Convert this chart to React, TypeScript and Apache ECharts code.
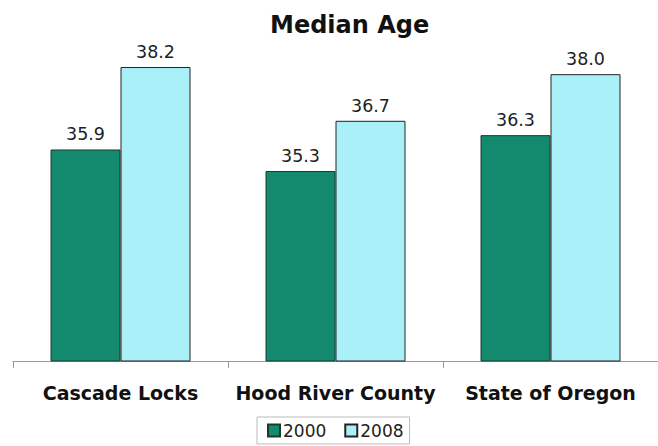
import React, { useEffect, useRef } from "react";
import * as echarts from "echarts";

const categories = ["Cascade Locks", "Hood River County", "State of Oregon"];
const values2000 = [35.9, 35.3, 36.3];
const values2008 = [38.2, 36.7, 38.0];
const seriesNames = ["2000", "2008"];

const FONT = "DejaVu Sans";

export default function App() {
  const ref = useRef<HTMLDivElement>(null);
  useEffect(() => {
    if (!ref.current) return;
    const chart = echarts.init(ref.current, undefined, { renderer: "svg" });
    const label = {
      show: true,
      position: "top",
      distance: 6,
      fontFamily: FONT,
      fontSize: 17.5,
      color: "#222",
      formatter: (p: any) => Number(p.value).toFixed(1),
    };
    chart.setOption({
      animation: false,
      backgroundColor: "#fff",
      title: {
        text: "Median Age",
        left: 265,
        top: 8,
        textStyle: { fontFamily: FONT, fontSize: 24, fontWeight: "bold", color: "#111" },
      },
      grid: { left: 13, right: 0, top: 2.5, bottom: 85 },
      xAxis: {
        type: "category",
        data: categories,
        axisLine: { lineStyle: { color: "#999", width: 1 } },
        axisTick: { show: true, length: 7, lineStyle: { color: "#999" } },
        axisLabel: {
          interval: 0,
          margin: 22,
          fontFamily: FONT,
          fontSize: 19,
          fontWeight: "bold",
          color: "#111",
        },
      },
      yAxis: {
        type: "value",
        min: 30,
        max: 40,
        show: false,
        splitLine: { show: false },
      },
      legend: {
        data: seriesNames,
        left: 257,
        bottom: 2,
        borderColor: "#bbb",
        borderWidth: 1,
        padding: [5, 6, 5, 10],
        itemGap: 18,
        itemWidth: 12,
        itemHeight: 12,
        icon: "rect",
        textStyle: { fontFamily: FONT, fontSize: 17, color: "#222", padding: [0, 0, 0, -2] },
      },
      series: [
        {
          name: seriesNames[0],
          type: "bar",
          data: values2000,
          barWidth: 70,
          barGap: "0%",
          itemStyle: { color: "#138a6e", borderColor: "#1a3a30", borderWidth: 1 },
          label,
        },
        {
          name: seriesNames[1],
          type: "bar",
          data: values2008,
          barWidth: 70,
          barGap: "0%",
          itemStyle: { color: "#aaf0f8", borderColor: "#222", borderWidth: 1 },
          label,
        },
      ],
    });
    return () => chart.dispose();
  }, []);
  return <div ref={ref} style={{ width: 658, height: 446, position: "absolute", left: 0, top: 0 }} />;
}
